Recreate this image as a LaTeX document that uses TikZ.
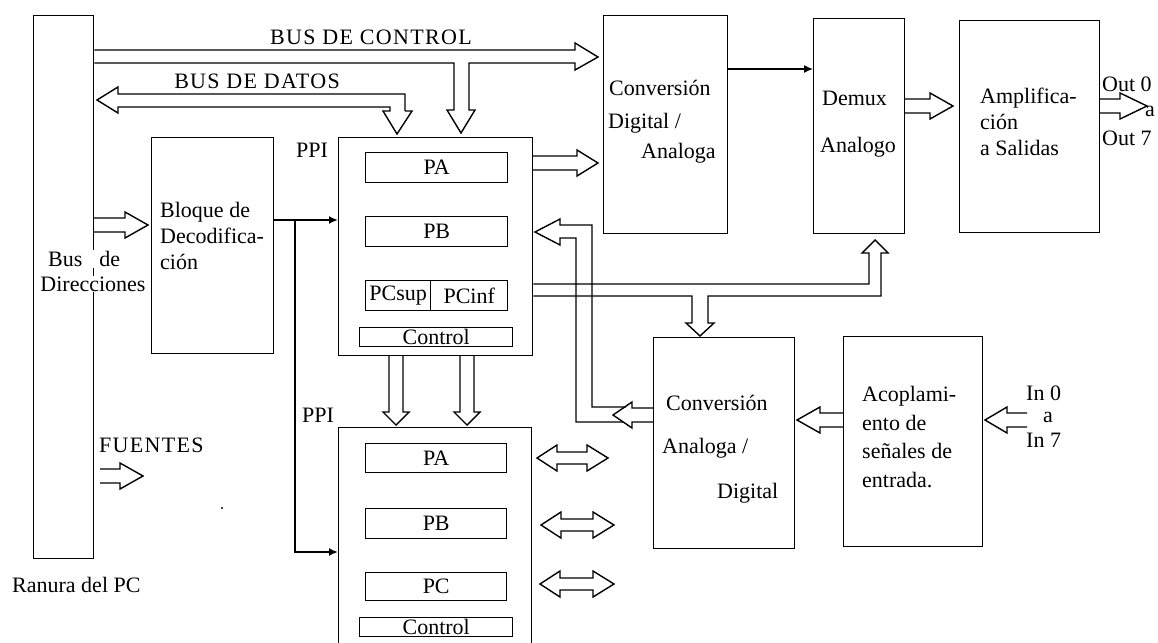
\documentclass[tikz,border=0pt]{standalone}
\usepackage{fontspec}
\setmainfont{Liberation Serif}
\usetikzlibrary{arrows.meta}
% fat (double-line) arrows
\newcommand\fatH[4]{\draw[bus] (#1,#4-7) -- (#2,#4-7) -- (#2,#4-13) -- (#3,#4) -- (#2,#4+13) -- (#2,#4+7) -- (#1,#4+7);}
\newcommand\fatV[4]{\draw[bus] (#4-7,#1) -- (#4-7,#2) -- (#4-13,#2) -- (#4,#3) -- (#4+13,#2) -- (#4+7,#2) -- (#4+7,#1);}
\newcommand\fatHH[5]{\draw[bus] (#2,#5-6) -- (#2,#5-13) -- (#1,#5) -- (#2,#5+13) -- (#2,#5+6) -- (#3,#5+6) -- (#3,#5+13) -- (#4,#5) -- (#3,#5-13) -- (#3,#5-6) -- cycle;}
\newcommand\bx[7][box]{\node[#1,minimum width=#5-#3,minimum height=#6-#4] (#2) at (#3,#4) {#7};}
\begin{document}
\begin{tikzpicture}[x=1pt,y=-1pt,line join=miter,
  box/.style={draw,line width=1.4pt,inner sep=0pt,anchor=north west,font=\fontsize{22}{26}\selectfont},
  bus/.style={line width=1.4pt},
  sig/.style={line width=1.9pt,-{Latex[length=9pt,width=8pt]}},
  lbl/.style={inner sep=0pt,font=\fontsize{22}{26}\selectfont},
  lblw/.style={lbl,anchor=west},
  caps/.style={lbl,font=\fontsize{22}{26}\addfontfeature{LetterSpace=6}\selectfont}]
\useasboundingbox (0,0) rectangle (1158,642);
% boxes
\bx{slot}{33}{15}{93}{558}{}
\bx{dec}{151}{137}{273}{353}{}
\bx{ppiA}{338}{137}{532}{355}{}
\bx{paA}{365}{152}{507}{182}{PA}
\bx{pbA}{365}{216}{507}{246}{PB}
\bx{pcs}{365}{280}{430}{310}{PCsup}
\bx{pci}{430}{280}{507}{310}{PCinf}
\bx{ctlA}{359}{327}{512}{346}{Control}
\bx{ppiB}{338}{427}{531}{652}{}
\bx{paB}{365}{443}{506}{472}{PA}
\bx{pbB}{365}{508}{506}{538}{PB}
\bx{pcB}{365}{572}{506}{600}{PC}
\bx{ctlB}{359}{617}{512}{636}{Control}
\bx{da}{603}{15}{727}{233}{}
\bx{demux}{813}{18}{904}{233}{}
\bx{amp}{959}{20}{1099}{232}{}
\bx{ad}{653}{337}{794}{548}{}
\bx{acop}{843}{336}{982}{546}{}
% control bus
\draw[bus] (slot.east |- 0,50) -- (575,50) -- (575,43) -- (598,57) -- (575,70) -- (575,63) -- (469,63) -- (469,110) -- (475,110) -- (461,133) -- (447,110) -- (454,110) -- (454,63) -- (slot.east |- 0,63);
% data bus
\draw[bus] (405,111) -- (405,94) -- (118,94) -- (118,87) -- (97,100) -- (118,113) -- (118,107) -- (390,107) -- (390,111) -- (383,111) -- (397,134) -- (412,111) -- (405,111);
% simple fat arrows
\fatH{93}{125}{148}{225}
\fatH{100}{120}{143}{476}
\fatH{532}{577}{598}{163}
\fatH{904}{930}{953}{106}
\fatH{1099}{1120}{1147}{106}
\fatH{843}{820}{797}{420}
\fatH{1027}{1007}{985}{420}
\fatV{355}{412}{425}{396}
\fatV{355}{412}{425}{467}
\fatHH{537}{557}{587}{608}{458}
\fatHH{541}{561}{593}{614}{525}
\fatHH{540}{560}{593}{614}{584}
% PC bus
\draw[bus] (ppiA.east |- 0,284) -- (869,284) -- (869,253) -- (862,253) -- (875,240) -- (888,253) -- (881,253) -- (881,296) -- (708,296) -- (708,323) -- (714,323) -- (700,336) -- (686,323) -- (692,323) -- (692,296) -- (ppiA.east |- 0,296);
% A/D to PB bus
\draw[bus] (ad.west |- 0,408) -- (632,408) -- (632,402) -- (613,415) -- (632,428) -- (632,422) -- (ad.west |- 0,422);
\draw[bus] (626,407) -- (592,407) -- (592,225) -- (560,225) -- (560,219) -- (535,232) -- (560,245) -- (560,238) -- (576,238) -- (576,422) -- (623,422);
% signal lines
\draw[sig] (dec.east |- 0,220) -- (ppiA.west |- 0,220);
\draw[sig] (dec.east |- 0,220) -| (295,552) -- (ppiB.west |- 0,552);
\draw[sig,line width=1.4pt] (da.east |- 0,69) -- (demux.west |- 0,69);
\fill (222,508) circle (1.2);
% labels
\node[caps] (tctl) at (371,37) {BUS DE CONTROL};
\node[caps] (tdat) at (257,81) {BUS DE DATOS};
\node[lblw,fill=white,inner sep=1pt] (busa) at (47,259) {Bus\hspace{17pt}de};
\node[lbl,fill=white,inner sep=1pt] (busb) at (93,284) {Direcciones};
\node[lblw] (ranura) at (12,585) {Ranura del PC};
\node[caps,anchor=west] (fuentes) at (99,445) {FUENTES};
\node[lblw] (ppiAl) at (296,150) {PPI};
\node[lblw] (ppiBl) at (302,415) {PPI};
\node[lblw,align=left] (dect) at (160,236) {Bloque de\\Decodifica-\\ción};
\node[lblw] (da1) at (609,88) {Conversión};
\node[lblw] (da2) at (608,123) {Digital /};
\node[lblw] (da3) at (641,153) {Analoga};
\node[lblw] (dm1) at (822,98) {Demux};
\node[lblw] (dm2) at (820,147) {Analogo};
\node[lblw,align=left] (ampt) at (980,122) {Amplifica-\\ción\\a Salidas};
\node[lblw] (o0) at (1102,84) {Out 0};
\node[lblw] (oa) at (1145,111) {a};
\node[lblw] (o7) at (1102,138) {Out 7};
\node[lblw] (ad1) at (666,403) {Conversión};
\node[lblw] (ad2) at (662,448) {Analoga /};
\node[lblw] (ad3) at (717,493) {Digital};
\node[lblw,align=left,font=\fontsize{22}{28.5}\selectfont] (acopt) at (862,437) {Acoplami-\\ento de\\señales de\\entrada.};
\node[lblw] (i0) at (1026,393) {In 0};
\node[lblw] (ia) at (1043,417) {a};
\node[lblw] (i7) at (1026,440) {In 7};
\end{tikzpicture}
\end{document}
